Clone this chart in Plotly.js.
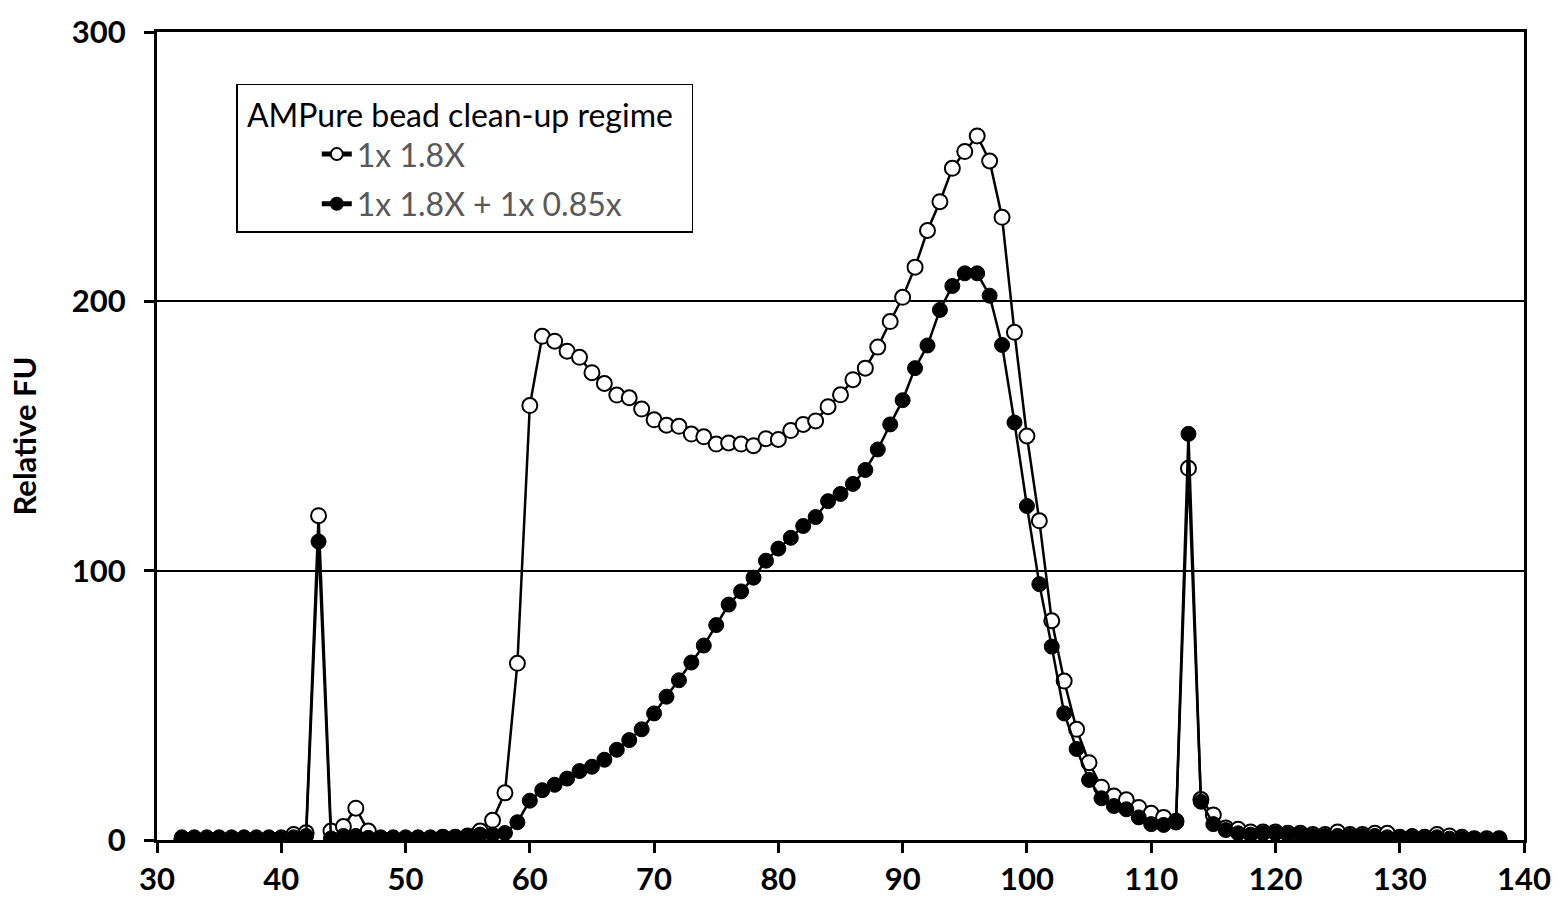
<!DOCTYPE html>
<html>
<head>
<meta charset="utf-8">
<script src="https://cdn.plot.ly/plotly-3.0.1.min.js"></script>
<style>
  html, body { margin: 0; padding: 0; background: #fff; }
  #chart { width: 1559px; height: 906px; }
</style>
</head>
<body>
<div id="chart"></div>
<script>
// fragment size (x) and relative fluorescence for the two clean-up regimes
var sizes = [
  32, 33, 34, 35, 36, 37, 38, 39, 40, 41,
  42, 43, 44, 45, 46, 47, 48, 49, 50, 51,
  52, 53, 54, 55, 56, 57, 58, 59, 60, 61,
  62, 63, 64, 65, 66, 67, 68, 69, 70, 71,
  72, 73, 74, 75, 76, 77, 78, 79, 80, 81,
  82, 83, 84, 85, 86, 87, 88, 89, 90, 91,
  92, 93, 94, 95, 96, 97, 98, 99, 100, 101,
  102, 103, 104, 105, 106, 107, 108, 109, 110, 111,
  112, 113, 114, 115, 116, 117, 118, 119, 120, 121,
  122, 123, 124, 125, 126, 127, 128, 129, 130, 131,
  132, 133, 134, 135, 136, 137, 138
];

var single18 = [
  0, 0, 0, 0, 0, 0, 0, 0, 0.5, 2,
  2.7, 120.4, 3.3, 5, 11.8, 3.3, 0.5, 0, 0, 0.5,
  0.5, 1, 1, 1.5, 3.3, 7.3, 17.5, 65.6, 161.3, 187,
  185.2, 181.5, 179.2, 173.5, 169.5, 165.2, 164.2, 160, 156, 154,
  153.6, 150.7, 149.7, 147, 147.4, 147, 146.4, 149, 148.7, 152,
  154.3, 155.6, 160.9, 165.3, 170.9, 175.2, 183, 192.5, 201.5, 212.7,
  226.3, 237, 249.4, 255.6, 261.4, 252.1, 231.2, 188.5, 150, 118.5,
  81.4, 59, 41.1, 28.7, 19.6, 16.3, 14.9, 12.1, 9.9, 8.4,
  7, 138, 15, 9.3, 4.5, 4, 3, 3, 3, 2.5,
  2.5, 2, 2, 3, 2, 2, 2.5, 2.5, 1, 1,
  1, 2, 1.5, 1, 0.5, 0.5, 0.5
];

var double18085 = [
  1, 1, 1, 1, 1, 1, 1, 1, 1, 1,
  1.5, 110.8, 0.6, 1.5, 1.5, 0.8, 1, 1, 1, 1,
  1, 1, 1, 1.5, 2, 2, 2.6, 6.6, 14.6, 18.5,
  20.5, 22.8, 25.6, 27.2, 29.8, 33.5, 37.1, 41.1, 47, 53.2,
  59.3, 65.9, 72.2, 79.8, 87.4, 92.3, 97.4, 103.7, 108.2, 112.2,
  116.6, 119.9, 125.8, 128.5, 132.2, 137.4, 145, 154.3, 163.3, 175.2,
  183.6, 196.8, 205.7, 210.4, 210.4, 202.1, 183.8, 155, 124, 95,
  71.8, 47, 33.8, 22.3, 15.5, 12.6, 11.4, 8.4, 5.9, 5.6,
  6.5, 150.8, 14.2, 5.9, 3.7, 2.5, 2, 2.5, 2.5, 2,
  2, 1.5, 1.5, 1.5, 1.5, 1.5, 1.5, 1, 1, 1.5,
  1, 1, 0.5, 0.5, 0.5, 0.5, 0.5
];

var seriesNames = ['1x 1.8X', '1x 1.8X + 1x 0.85x'];
var legendTitle = 'AMPure bead clean-up regime';
var xTicks = [30, 40, 50, 60, 70, 80, 90, 100, 110, 120, 130, 140];
var yTicks = [0, 100, 200, 300];

var fontFamily = 'Lato, "Open Sans", sans-serif';

var traceOpen = {
  x: sizes,
  y: single18,
  name: seriesNames[0],
  type: 'scatter',
  mode: 'lines+markers',
  legendgroup: 'a',
  line: { color: '#000', width: 2.5 },
  marker: { symbol: 'circle', size: 15, color: '#fff', line: { color: '#000', width: 2 } }
};

var traceFilled = {
  x: sizes,
  y: double18085,
  name: seriesNames[1],
  type: 'scatter',
  mode: 'lines+markers',
  legendgroup: 'b',
  line: { color: '#000', width: 2.5 },
  marker: { symbol: 'circle', size: 15, color: '#000', line: { color: '#000', width: 1 } }
};

var layout = {
  width: 1559,
  height: 906,
  margin: { l: 157, r: 35, t: 32, b: 66 },
  paper_bgcolor: '#fff',
  plot_bgcolor: '#fff',
  font: { family: fontFamily, color: '#000' },
  showlegend: true,
  legend: {
    x: 0.058,
    y: 0.936,
    xanchor: 'left',
    yanchor: 'top',
    bgcolor: '#fff',
    bordercolor: '#000',
    borderwidth: 1.5,
    indentation: 79,
    tracegroupgap: 5,
    title: { text: '\u00a0' + legendTitle + '\u00a0\u00a0', font: { size: 32, color: '#000', family: fontFamily } },
    font: { size: 32, color: '#595959', family: fontFamily },
    itemsizing: 'constant'
  },
  xaxis: {
    range: [30, 140],
    tickvals: xTicks,
    ticktext: xTicks.map(String),
    showgrid: false,
    zeroline: false,
    showline: true,
    linecolor: '#000',
    linewidth: 3,
    mirror: true,
    ticks: 'outside',
    ticklen: 10,
    tickwidth: 3,
    tickcolor: '#000',
    tickfont: { size: 31, family: fontFamily, weight: 'bold', color: '#000' }
  },
  yaxis: {
    range: [0, 300],
    tickvals: yTicks,
    ticktext: yTicks.map(String),
    showgrid: true,
    gridcolor: '#000',
    gridwidth: 2,
    zeroline: false,
    showline: true,
    linecolor: '#000',
    linewidth: 3,
    mirror: true,
    ticks: 'outside',
    ticklen: 10,
    tickwidth: 3,
    tickcolor: '#000',
    ticklabelstandoff: 12,
    tickfont: { size: 31, family: fontFamily, weight: 'bold', color: '#000' },
    title: {
      text: 'Relative FU',
      standoff: 26,
      font: { size: 31, family: fontFamily, weight: 'bold', color: '#000' }
    }
  }
};

Plotly.newPlot('chart', [traceOpen, traceFilled], layout, { displayModeBar: false, staticPlot: true });
</script>
</body>
</html>
